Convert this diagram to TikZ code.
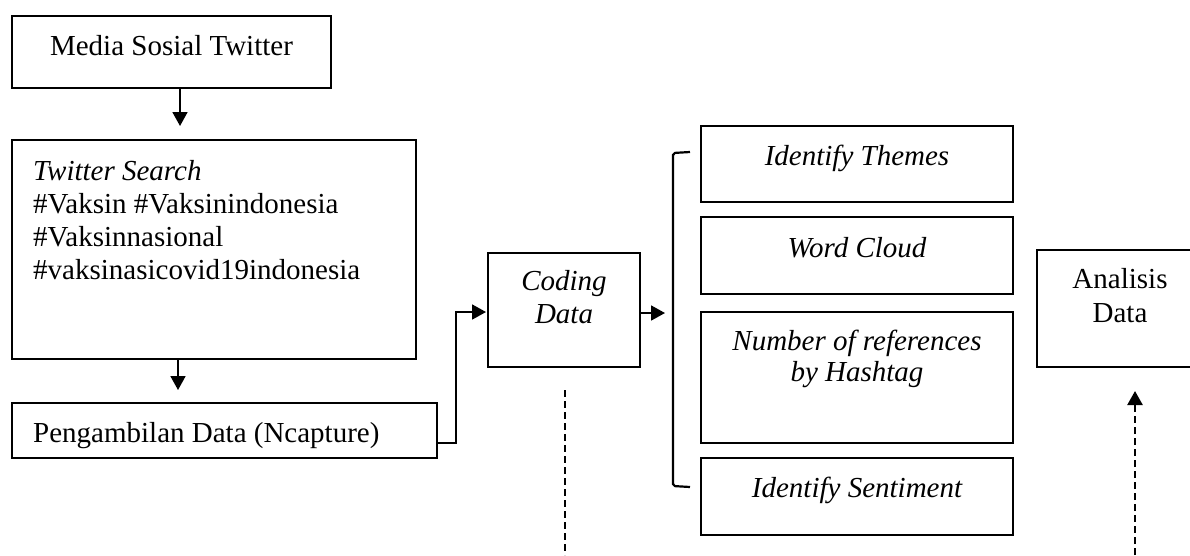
\documentclass[tikz,border=0pt]{standalone}
\usepackage{fontspec}
\setmainfont{Liberation Serif}
\usetikzlibrary{arrows.meta}
\begin{document}
\begin{tikzpicture}[x={(1pt,0)},y={(0,-1pt)},
  box/.style={draw,line width=2.3pt},
  txt/.style={inner sep=0pt,font=\fontsize{29}{33.5}\selectfont},
  itxt/.style={txt,font=\fontsize{29}{33.5}\selectfont\itshape},
  conn/.style={line width=1.8pt},
  arr/.style={conn,-{Triangle[length=14pt,width=15pt]}},
  dashline/.style={line width=2.4pt,dash pattern=on 7pt off 4pt}]
\useasboundingbox (0,0) rectangle (1190,555);
% boxes
\draw[box] (12,16) rectangle (331,88);
\draw[box] (12,140) rectangle (416,359);
\draw[box] (12,403) rectangle (437,458);
\draw[box] (488,253) rectangle (640,367);
\draw[box] (701,126) rectangle (1013,202);
\draw[box] (701,217) rectangle (1013,294);
\draw[box] (701,312) rectangle (1013,443);
\draw[box] (701,458) rectangle (1013,535);
\draw[box] (1037,250) rectangle (1196,367);
% texts
\node[txt,anchor=base] (t1) at (171.5,55) {Media Sosial Twitter};
\node[itxt,anchor=base west] (t2a) at (33,180) {Twitter Search};
\node[txt,anchor=base west] (t2b) at (33,213) {\#Vaksin \#Vaksinindonesia};
\node[txt,anchor=base west] (t2c) at (33,246) {\#Vaksinnasional};
\node[txt,anchor=base west] (t2d) at (33,279) {\#vaksinasicovid19indonesia};
\node[txt,anchor=base west] (t3) at (33,442) {Pengambilan Data (Ncapture)};
\node[itxt,anchor=base] (tc1) at (564,290) {Coding};
\node[itxt,anchor=base] (tc2) at (564,323) {Data};
\node[itxt,anchor=base] (tt) at (857,165) {Identify Themes};
\node[itxt,anchor=base] (tw) at (857,257) {Word Cloud};
\node[itxt,anchor=base] (tn1) at (857,350) {Number of references};
\node[itxt,anchor=base] (tn2) at (857,381) {by Hashtag};
\node[itxt,anchor=base] (ts) at (857,497) {Identify Sentiment};
\node[txt,anchor=base] (ta1) at (1120,288) {Analisis};
\node[txt,anchor=base] (ta2) at (1120,322) {Data};
% coordinates for connectors
\coordinate (a1s) at (180,89);
\coordinate (a1e) at (180,126);
\coordinate (a2s) at (178,360);
\coordinate (a2e) at (178,390);
\coordinate (a3s) at (438,443);
\coordinate (a3m) at (456,312);
\coordinate (a3e) at (486,312);
\coordinate (a4s) at (641,313);
\coordinate (a4e) at (665,313);
\coordinate (brt) at (690,152);
\coordinate (brb) at (690,487);
\coordinate (d1s) at (565,390);
\coordinate (d1e) at (565,555);
\coordinate (d2s) at (1135,555);
\coordinate (d2e) at (1135,391);
\draw[arr] (a1s) -- (a1e);
\draw[arr] (a2s) -- (a2e);
\draw[arr] (a3s) -| (a3m) -- (a3e);
\draw[arr] (a4s) -- (a4e);
\draw[line width=2.2pt,rounded corners=2pt] (brt) -- (673,153) -- (673,486) -- (brb);
\draw[dashline] (d1s) -- (d1e);
\draw[dashline,-{Triangle[length=14pt,width=15pt]}] (d2s) -- (d2e);
\end{tikzpicture}
\end{document}
